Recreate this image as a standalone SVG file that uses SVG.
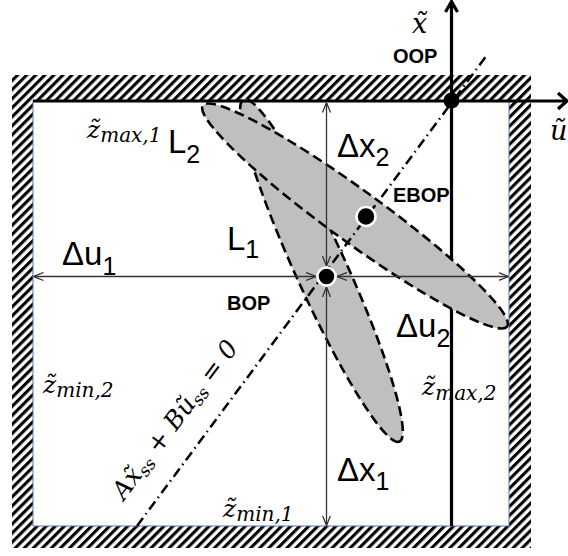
<svg xmlns="http://www.w3.org/2000/svg" width="568" height="556" viewBox="0 0 568 556">
<defs>
<pattern id="hatch" patternUnits="userSpaceOnUse" width="6.4" height="10" patternTransform="rotate(45)">
<rect width="6.4" height="10" fill="#fff"/>
<rect width="3.1" height="10" fill="#000"/>
</pattern>
<marker id="ah" viewBox="0 0 10 10" refX="10" refY="5" markerWidth="10" markerHeight="10" markerUnits="userSpaceOnUse" orient="auto-start-reverse">
<path d="M0,1 L10,5 L0,9" fill="none" stroke="#333" stroke-width="1.3"/>
</marker>
<style>
.lbl{font-family:"Liberation Sans",Arial,sans-serif;font-size:33px;fill:#000}
.sub{font-size:25px}
.bold{font-family:"Liberation Sans",Arial,sans-serif;font-weight:bold;font-size:20px;fill:#000}
.m{font-family:"DejaVu Serif",serif;font-style:italic;font-size:25px;fill:#000}
.ms{font-size:20px}
.ax{font-size:27px}
.eq{font-size:25px}
.eqs{font-size:17px}
.ell{fill:#bfbfbf;stroke:#000;stroke-width:2.6;stroke-dasharray:10 5}
.dim line{stroke:#333;stroke-width:1.3;fill:none;marker-start:url(#ah);marker-end:url(#ah)}
.axis{stroke:#000;stroke-width:3.2;fill:none}
.dot{fill:#000}
</style>
</defs>
<rect width="568" height="556" fill="#fff"/>
<g id="wall">
<rect x="12" y="75" width="519" height="473" fill="url(#hatch)"/>
<rect x="33" y="101" width="476" height="425" fill="#fff" stroke="#5b77a8" stroke-width="1"/>
</g>
<g id="x-axis">
<line class="axis" x1="451.5" y1="526" x2="451.5" y2="2"/>
<path class="axis" d="M445.5,12 L451.5,1.5 L457.5,12"/>
</g>
<g id="L1">
<ellipse class="ell" cx="321.5" cy="270.5" rx="188" ry="25.5" transform="rotate(65.5 321.5 270.5)"/>
</g>
<g id="L2">
<ellipse class="ell" cx="355" cy="216" rx="188" ry="26" transform="rotate(36 355 216)"/>
</g>
<g id="u-axis">
<line class="axis" x1="33" y1="101" x2="566" y2="101"/>
<path class="axis" d="M558,93 L567,101 L558,109"/>
</g>
<g id="connectors">
<line id="steady-line" x1="137" y1="526" x2="487" y2="55" stroke="#000" stroke-width="2.5" stroke-dasharray="10 4.5 1.5 4.5"/>
<g class="dim">
<line x1="326.5" y1="266" x2="326.5" y2="102.5"/>
<line x1="326.5" y1="287" x2="326.5" y2="525.5"/>
<line x1="316" y1="276.5" x2="33.5" y2="276.5"/>
<line x1="337" y1="276.5" x2="508.5" y2="276.5"/>
</g>
</g>
<g id="OOP">
<circle class="dot" cx="451.5" cy="100.5" r="8"/>
<text class="bold" x="393" y="63">OOP</text>
</g>
<g id="EBOP">
<circle class="dot" cx="366" cy="216.5" r="9.5" stroke="#fff" stroke-width="2.5"/>
<text class="bold" x="393" y="202">EBOP</text>
</g>
<g id="BOP">
<circle class="dot" cx="326.5" cy="276.5" r="9" stroke="#fff" stroke-width="2.5"/>
<text class="bold" x="227" y="310">BOP</text>
</g>
<g id="labels">
<text class="m ax" x="412" y="33">x̃</text>
<text class="m ax" x="550" y="140">ũ</text>
<text class="lbl" x="337" y="157">Δx<tspan class="sub" dy="9">2</tspan></text>
<text class="lbl" x="337" y="481">Δx<tspan class="sub" dy="9">1</tspan></text>
<text class="lbl" x="62" y="265">Δu<tspan class="sub" dy="10">1</tspan></text>
<text class="lbl" x="396" y="337">Δu<tspan class="sub" dy="10">2</tspan></text>
<text class="lbl" x="227" y="250">L<tspan class="sub" dy="8">1</tspan></text>
<text class="lbl" x="168" y="153">L<tspan class="sub" dy="10">2</tspan></text>
<text class="m" x="87" y="138">z̃<tspan class="ms" dy="4">max,1</tspan></text>
<text class="m" x="43" y="393">z̃<tspan class="ms" dy="4">min,2</tspan></text>
<text class="m" x="223" y="517">z̃<tspan class="ms" dy="4">min,1</tspan></text>
<text class="m" x="422" y="395">z̃<tspan class="ms" dy="5">max,2</tspan></text>
<text class="m eq" transform="translate(124 501) rotate(-53)">Ax̃<tspan class="eqs" dy="4">ss</tspan><tspan dy="-4"> + B</tspan>ũ<tspan class="eqs" dy="4">ss</tspan><tspan dy="-4"> = 0</tspan></text>
</g>
</svg>
